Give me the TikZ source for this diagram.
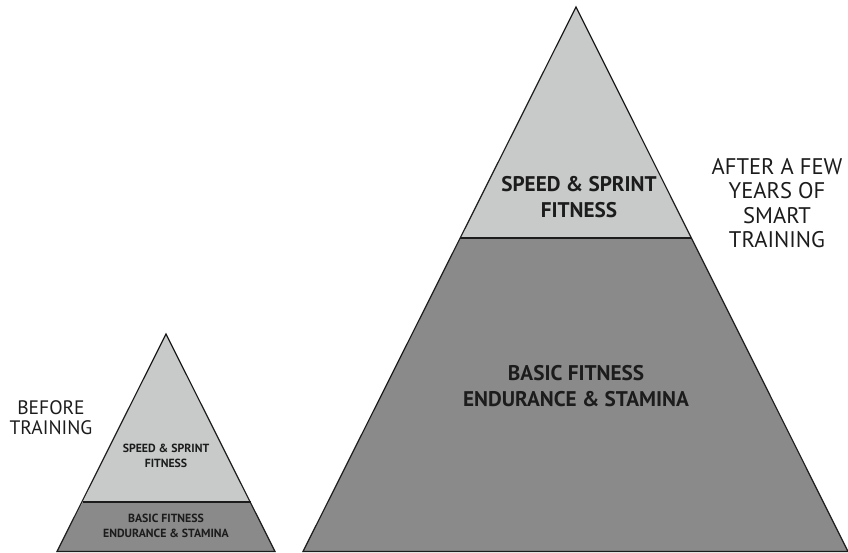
\documentclass[tikz,border=0pt]{standalone}
\usepackage{fontspec}
\setmainfont{PT Sans}
\definecolor{tierlight}{HTML}{C8CACA}
\definecolor{tierdark}{HTML}{8A8A8A}
\definecolor{inkdark}{HTML}{1C1C1C}
\begin{document}
\begin{tikzpicture}[x=1pt,y=-1pt,
  outline/.style={draw=inkdark,line width=1.2pt,line join=miter},
  biglabel/.style={align=center,text=inkdark,font=\bfseries\fontsize{21.2}{25.5}\selectfont},
  smalllabel/.style={align=center,text=inkdark,font=\bfseries\fontsize{11.8}{14.8}\selectfont},
  sidelabel/.style={align=center,text=inkdark,font=\fontsize{22.6}{24.5}\selectfont},
  beforelabel/.style={align=center,text=inkdark,font=\fontsize{19.5}{20}\selectfont}]
\useasboundingbox (0,0) rectangle (848,552);

% large pyramid
\coordinate (LA) at (576,7);
\coordinate (LL) at (303,551.5);
\coordinate (LR) at (848,551.5);
\coordinate (LdL) at (460.4,238);
\coordinate (LdR) at (691.3,238);
\fill[tierlight] (LA) -- (LdL) -- (LdR) -- cycle;
\fill[tierdark] (LdL) -- (LL) -- (LR) -- (LdR) -- cycle;
\draw[outline] (LdL) -- (LdR);
\draw[outline] (LA) -- (LL) -- (LR) -- cycle;

% small pyramid
\coordinate (SA) at (166,334);
\coordinate (SL) at (57,551.5);
\coordinate (SR) at (275,551.5);
\coordinate (SdL) at (82.7,502);
\coordinate (SdR) at (250.5,502);
\fill[tierlight] (SA) -- (SdL) -- (SdR) -- cycle;
\fill[tierdark] (SdL) -- (SL) -- (SR) -- (SdR) -- cycle;
\draw[outline] (SdL) -- (SdR);
\draw[outline] (SA) -- (SL) -- (SR) -- cycle;

% labels
\node[biglabel] (bigtop) at (579,197) {SPEED \& SPRINT\\FITNESS};
\node[biglabel] (bigbase) at (576,386) {BASIC FITNESS\\ENDURANCE \& STAMINA};
\node[smalllabel] (smalltop) at (166,456) {SPEED \& SPRINT\\FITNESS};
\node[smalllabel] (smallbase) at (166,526) {BASIC FITNESS\\ENDURANCE \& STAMINA};
\node[sidelabel] (after) at (777,203) {AFTER A FEW\\YEARS OF\\SMART\\TRAINING};
\node[beforelabel] (before) at (51,418) {BEFORE\\TRAINING};
\end{tikzpicture}
\end{document}
